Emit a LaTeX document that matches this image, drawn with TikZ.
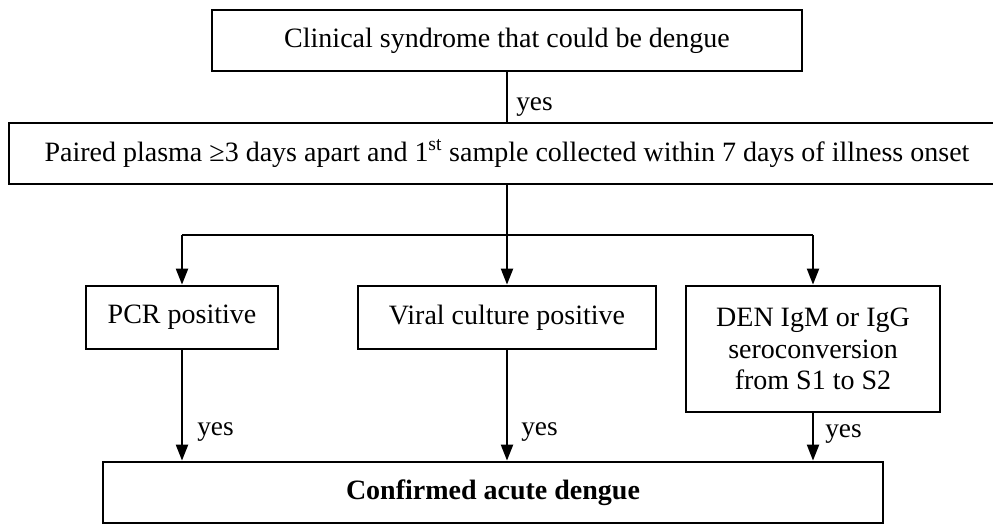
\documentclass[tikz,border=0pt]{standalone}
\usepackage{fontspec}
\setmainfont{Liberation Serif}
\usetikzlibrary{arrows.meta}
\begin{document}
\begin{tikzpicture}[x=0.75pt,y=-0.75pt,
  box/.style={draw, line width=2.1pt, inner sep=0pt, align=center,
    font=\fontsize{21}{23.6}\selectfont},
  conn/.style={line width=1.6pt},
  arr/.style={conn, -{Triangle[length=12pt,width=9pt]}},
  lbl/.style={font=\fontsize{20.5}{24}\selectfont, anchor=base west, inner sep=0pt}]
\useasboundingbox (0,0) rectangle (993,525);
\clip (0,0) rectangle (993,525);
\node[box, minimum width=442.5pt, minimum height=45.75pt] (top) at (507,40.5)
  {Clinical syndrome that could be dengue};
\node[box, minimum width=747pt, minimum height=45.75pt] (second) at (507,153.5)
  {Paired plasma ≥3 days apart and 1\textsuperscript{st} sample collected within 7 days of illness onset};
\node[box, minimum width=144pt, minimum height=47.25pt] (pcr) at (182,317.5) {PCR positive};
\node[box, minimum width=223.5pt, minimum height=47.25pt] (viral) at (507,317.5) {Viral culture positive};
\node[box, minimum width=190.5pt, minimum height=94.5pt] (den) at (813,349)
  {DEN IgM or IgG\\seroconversion\\from S1 to S2};
\node[box, minimum width=585pt, minimum height=45.75pt] (conf) at (493,492.5)
  {\textbf{Confirmed acute dengue}};
\coordinate (j) at (507,235);
\coordinate (jl) at (182,235);
\coordinate (jr) at (813,235);
\draw[conn] (top.south) -- (second.north);
\draw[conn] (second.south) -- (j);
\draw[conn] (jl) -- (jr);
\draw[arr] (jl) -- (pcr.north);
\draw[arr] (j) -- (viral.north);
\draw[arr] (jr) -- (den.north);
\draw[arr] (pcr.south) -- (pcr.south |- conf.north);
\draw[arr] (viral.south) -- (viral.south |- conf.north);
\draw[arr] (den.south) -- (den.south |- conf.north);
\node[lbl] (y0) at (516,110) {yes};
\node[lbl] (y1) at (197,435) {yes};
\node[lbl] (y2) at (521,435) {yes};
\node[lbl] (y3) at (825,437) {yes};
\end{tikzpicture}
\end{document}
